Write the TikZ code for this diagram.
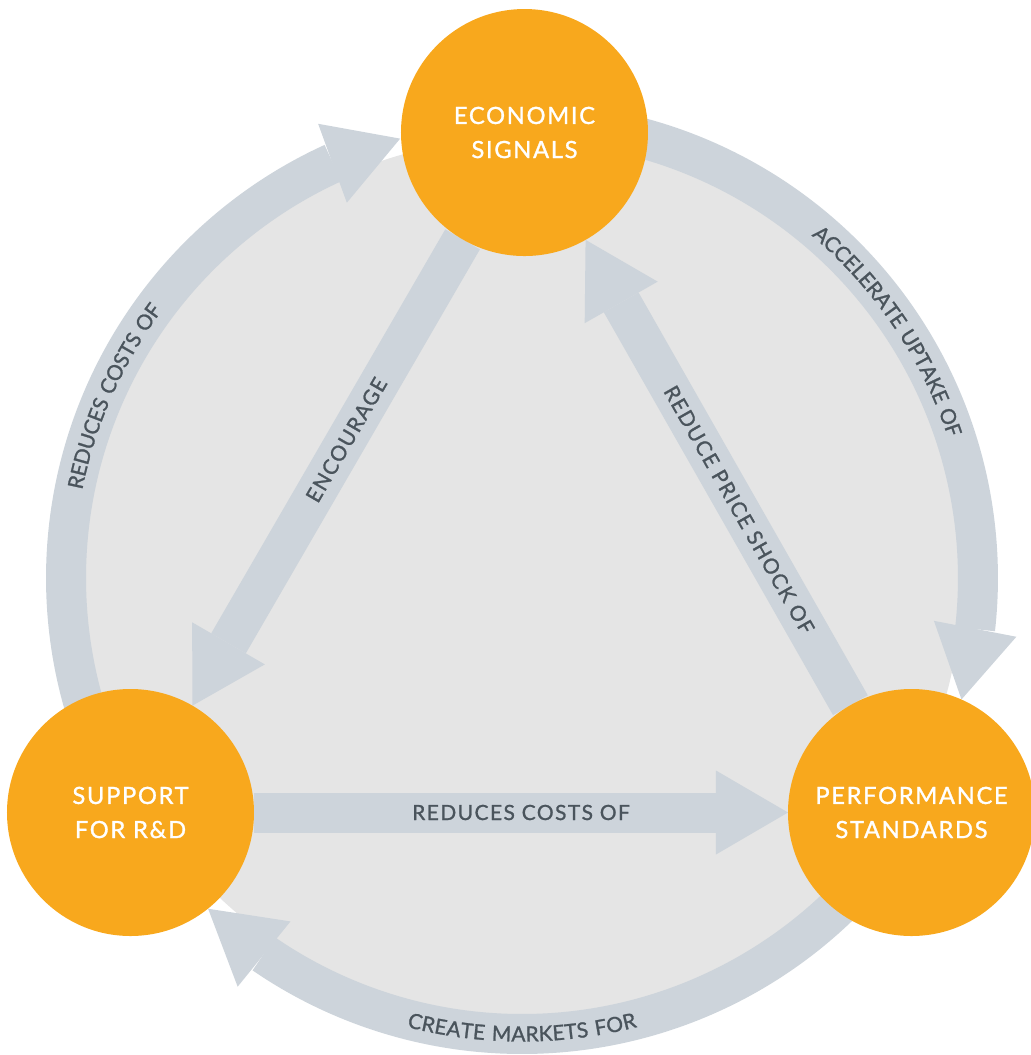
\documentclass[tikz,border=0pt]{standalone}
\usepackage{fontspec}
\setmainfont{Lato}[LetterSpace=7, FakeBold=1.2]
\usetikzlibrary{arrows.meta,bending,backgrounds,decorations.text}

\definecolor{leverorange}{HTML}{F8A81D}
\definecolor{diskgray}{HTML}{E5E5E5}
\definecolor{flowgray}{HTML}{CDD4DB}
\definecolor{labelgray}{HTML}{4A545C}

\newcommand{\flowfont}{\fontsize{5.95}{7}\selectfont}

\tikzset{
  lever/.style={circle, fill=leverorange, text=white, minimum size=2.47cm, inner sep=0pt, outer sep=0pt, align=center, font=\fontsize{6.75}{9.7}\selectfont},
  flow/.style={draw=flowgray, line width=0.4cm, -{Triangle[length=0.72cm, width=0.84cm, line width=0pt]}},
  flowlabel/.style={font=\flowfont, text=labelgray, sloped, inner sep=0pt},
  arclabel/.style={decorate, decoration={text along path, text align=center, raise=-0.075cm, text={|\flowfont\color{labelgray}|#1}}}
}

\begin{document}
\begin{tikzpicture}
  \useasboundingbox (0,0) rectangle (10.31,-10.55);

  % Policy levers
  \node[lever] (econ) at (5.245,-1.325) {ECONOMIC\\SIGNALS};
  \node[lever] (sup) at (1.305,-8.125) {SUPPORT\\FOR R\&D};
  \node[lever] (perf) at (9.115,-8.125) {PERFORMANCE\\STANDARDS};

  \begin{scope}[on background layer]
    % Gray disk
    \coordinate (ringc) at (5.22,-5.78);
    \fill[diskgray] (ringc) circle[radius=4.4];

    % Outer loop
    \begin{scope}[shift={(ringc)}]
      \draw[flow] (210.9:4.56) arc[start angle=210.9, end angle=105.5, radius=4.56];
      \draw[flow] (89.7:4.56) arc[start angle=89.7, end angle=-15.45, radius=4.56];
      \draw[flow] (328.95:4.56) arc[start angle=328.95, end angle=226.5, radius=4.56];
      \path[arclabel=REDUCES COSTS OF] (186:4.56) arc[start angle=186, end angle=126, radius=4.56];
      \path[arclabel=ACCELERATE UPTAKE OF] (64:4.56) arc[start angle=64, end angle=4, radius=4.56];
      \path[arclabel=CREATE MARKETS FOR] (240:4.56) arc[start angle=240, end angle=300, radius=4.56];
    \end{scope}

    % Inner arrows
    \draw[flow] (econ) -- node[flowlabel, pos=0.43] {ENCOURAGE} (sup);
    \draw[flow] (perf) -- node[flowlabel, pos=0.42] {REDUCE PRICE SHOCK OF} (econ);
    \draw[flow] (sup) -- node[flowlabel] {REDUCES COSTS OF} (perf);
  \end{scope}
\end{tikzpicture}
\end{document}
